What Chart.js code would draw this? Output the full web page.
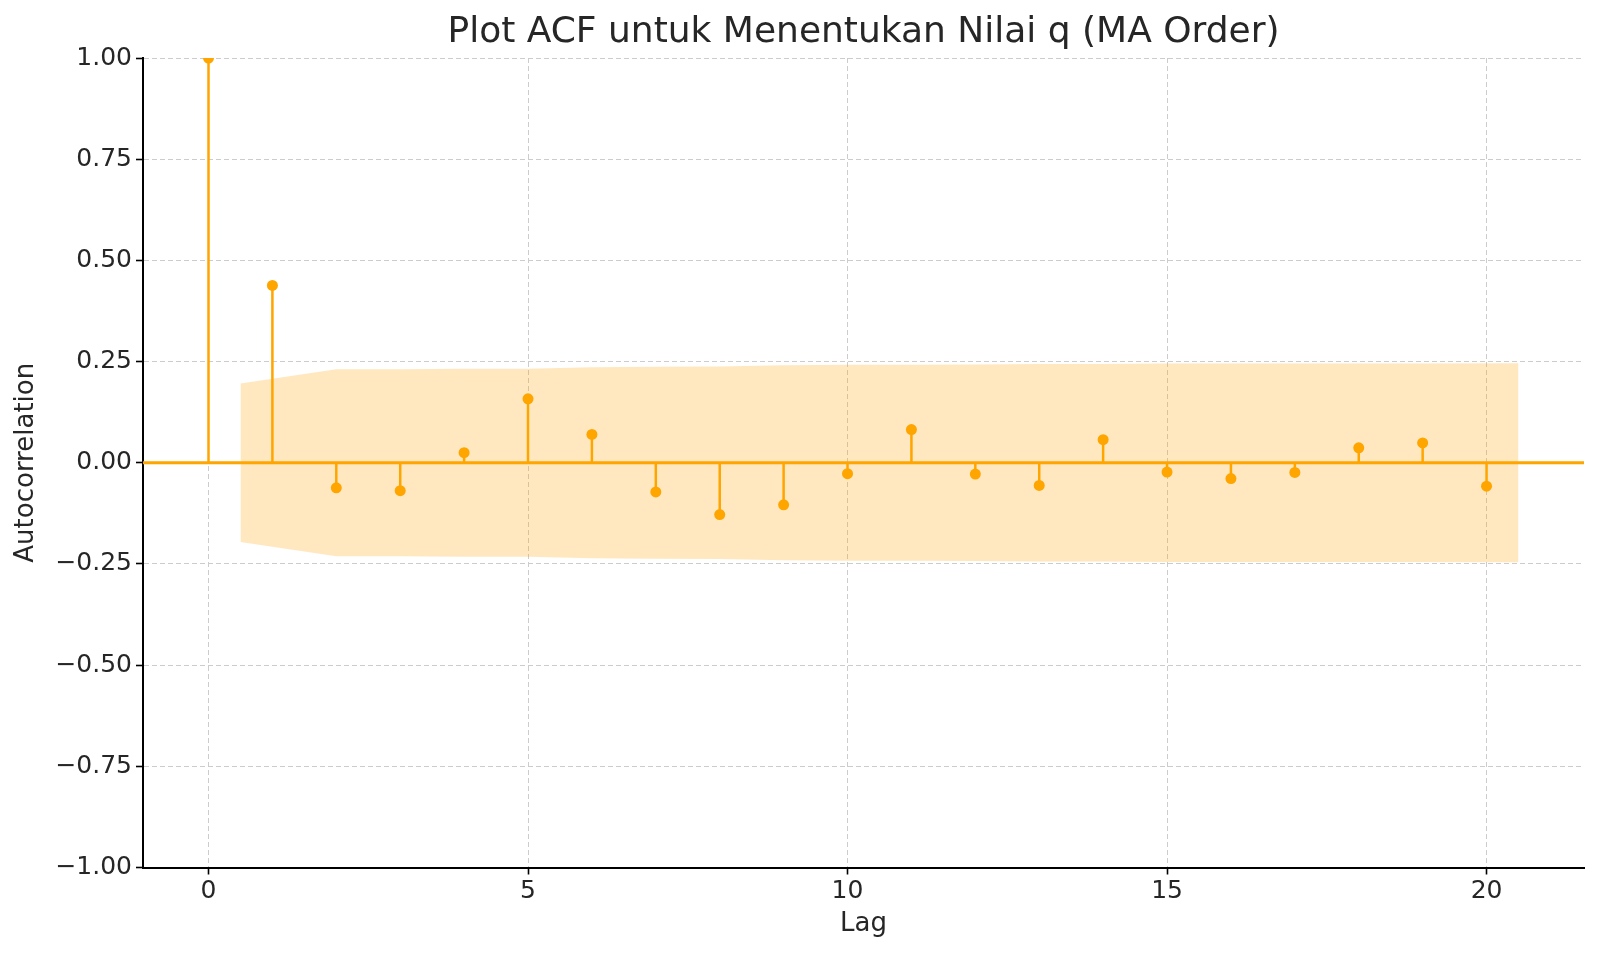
<!DOCTYPE html>
<html>
<head>
<meta charset="utf-8">
<script src="https://cdn.jsdelivr.net/npm/chart.js@4/dist/chart.umd.min.js"></script>
<style>
  html, body { margin: 0; padding: 0; background: #fff; }
</style>
</head>
<body>
<canvas id="chart" width="1600" height="954"></canvas>
<script>
// ---------- DATA ----------
const lags = [0, 1, 2, 3, 4, 5, 6, 7, 8, 9, 10, 11, 12, 13, 14, 15, 16, 17, 18, 19, 20];
const acfValues = [1.0, 0.438, -0.062, -0.069, 0.025, 0.158, 0.070, -0.072, -0.128, -0.104,
  -0.027, 0.082, -0.028, -0.056, 0.057, -0.023, -0.039, -0.024, 0.037, 0.049, -0.058];

// confidence band (symmetric around 0), edges widened by half a lag
const bandLags = [0.5, 2, 3, 4, 5, 6, 7, 8, 9, 10, 11, 12, 13, 14, 15, 16, 17, 18, 19, 20.5];
const bandUpper = [0.196, 0.231, 0.231, 0.232, 0.232, 0.236, 0.237, 0.238, 0.241, 0.242,
  0.242, 0.243, 0.244, 0.244, 0.245, 0.245, 0.245, 0.245, 0.245, 0.246];

const xTicks = [0, 5, 10, 15, 20];
const yTicks = [-1, -0.75, -0.5, -0.25, 0, 0.25, 0.5, 0.75, 1];
const xMin = -1.025, xMax = 21.525;

const ORANGE = "#ffa500";
const FONT = "DejaVu Sans";

// ---------- CHART ----------
const stems = [];
lags.forEach((l, i) => {
  stems.push({ x: l, y: 0 }, { x: l, y: acfValues[i] }, { x: l, y: null });
});

new Chart(document.getElementById("chart"), {
  type: "scatter",
  data: {
    datasets: [
      {
        label: "acf",
        data: lags.map((l, i) => ({ x: l, y: acfValues[i] })),
        pointRadius: 5.5,
        pointHoverRadius: 5.5,
        pointBackgroundColor: ORANGE,
        pointBorderWidth: 0,
        showLine: false,
        order: 0
      },
      {
        label: "stems",
        type: "line",
        data: stems,
        borderColor: ORANGE,
        borderWidth: 2.5,
        pointRadius: 0,
        spanGaps: false,
        order: 1
      },
      {
        label: "zero",
        type: "line",
        data: [{ x: xMin, y: 0 }, { x: xMax, y: 0 }],
        borderColor: ORANGE,
        borderWidth: 3,
        pointRadius: 0,
        order: 2
      },
      {
        label: "upper",
        type: "line",
        data: bandLags.map((l, i) => ({ x: l, y: bandUpper[i] })),
        borderWidth: 0,
        pointRadius: 0,
        backgroundColor: "rgba(255,165,0,0.25)",
        fill: "+1",
        order: 3
      },
      {
        label: "lower",
        type: "line",
        data: bandLags.map((l, i) => ({ x: l, y: -bandUpper[i] })),
        borderWidth: 0,
        pointRadius: 0,
        fill: false,
        order: 4
      }
    ]
  },
  options: {
    responsive: false,
    animation: false,
    devicePixelRatio: 1,
    layout: { padding: { top: 0, right: 16, bottom: 0, left: 0 } },
    plugins: {
      legend: { display: false },
      tooltip: { enabled: false },
      title: {
        display: true,
        fullSize: false,
        text: "Plot ACF untuk Menentukan Nilai q (MA Order)",
        color: "#262626",
        font: { family: FONT, size: 36, weight: "normal" },
        padding: { top: 11, bottom: 3.8 }
      }
    },
    scales: {
      x: {
        type: "linear",
        min: xMin,
        max: xMax,
        afterBuildTicks: (s) => { s.ticks = xTicks.map(v => ({ value: v })); },
        afterFit: (s) => { s.height = 86.5; },
        ticks: {
          includeBounds: false,
          color: "#262626",
          font: { family: FONT, size: 25 },
          padding: 2,
          maxRotation: 0
        },
        grid: {
          color: "#cccccc",
          lineWidth: 1,
          tickColor: "#000",
          tickLength: 7,
          tickWidth: 1.6,
          tickBorderDash: []
        },
        border: { display: true, color: "#000", width: 2, dash: [5, 3] },
        title: {
          display: true,
          text: "Lag",
          color: "#262626",
          font: { family: FONT, size: 26 },
          padding: { top: 0, bottom: 14 }
        }
      },
      y: {
        type: "linear",
        min: -1,
        max: 1,
        afterBuildTicks: (s) => { s.ticks = yTicks.map(v => ({ value: v })); },
        afterFit: (s) => { s.width = 143; },
        ticks: {
          includeBounds: false,
          color: "#262626",
          font: { family: FONT, size: 25 },
          padding: 4,
          callback: (v) => (v < 0 ? "\u2212" : "") + Math.abs(v).toFixed(2)
        },
        grid: {
          color: "#cccccc",
          lineWidth: 1,
          tickColor: "#000",
          tickLength: 7,
          tickWidth: 1.6,
          tickBorderDash: []
        },
        border: { display: true, color: "#000", width: 2, dash: [5, 3] },
        title: {
          display: true,
          text: "Autocorrelation",
          color: "#262626",
          font: { family: FONT, size: 26 },
          padding: { top: 11, bottom: 0 }
        }
      }
    }
  }
});
</script>
</body>
</html>
